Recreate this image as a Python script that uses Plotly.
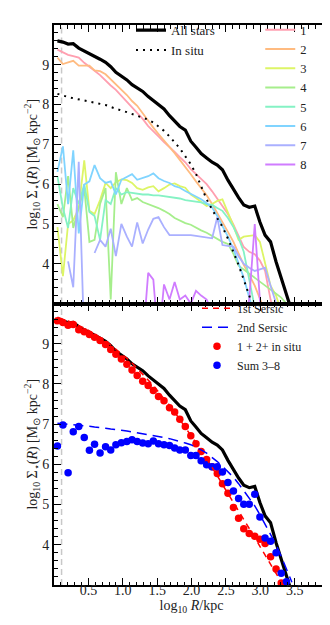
"""Surface density profiles: components (top) and Sersic decomposition (bottom)."""

import plotly.graph_objects as go

# log10 R grid (kpc)
log_r = [0.05, 0.13, 0.205, 0.28, 0.36, 0.44, 0.515, 0.59, 0.67, 0.75,
         0.825, 0.90, 0.98, 1.06, 1.135, 1.21, 1.29, 1.37, 1.445, 1.52,
         1.60, 1.68, 1.755, 1.83, 1.91, 1.99, 2.065, 2.14, 2.22, 2.30,
         2.375, 2.45, 2.53, 2.61, 2.685, 2.76, 2.84, 2.92, 2.995, 3.07,
         3.15, 3.23, 3.305, 3.38, 3.46]

all_stars = [9.60, 9.57, 9.52, 9.53, 9.42, 9.35, 9.29, 9.22, 9.14, 9.06,
             8.95, 8.81, 8.71, 8.62, 8.50, 8.41, 8.33, 8.20, 8.10, 7.99,
             7.89, 7.72, 7.58, 7.45, 7.36, 7.08, 6.93, 6.77, 6.66, 6.55,
             6.48, 6.36, 6.10, 5.86, 5.66, 5.48, 5.42, 5.45, 5.05, 4.72,
             4.55, 4.05, 3.65, 3.25, 2.80]

in_situ = [8.27, 8.22, 8.19, 8.16, 8.13, 8.10, 8.08, 8.06, 8.03, 7.99,
           7.94, 7.89, 7.85, 7.81, 7.77, 7.73, 7.67, 7.62, 7.55, 7.45,
           7.34, 7.20, 7.05, 6.90, 6.70, 6.50, 6.26, 5.95, 5.62, 5.36,
           5.14, 4.93, 4.63, 4.30, 3.97, 3.60, 3.22, 2.80]

comp_1 = [9.38, 9.32, 9.25, 9.22, 9.18, 9.05, 8.96, 8.85, 8.74, 8.60,
          8.48, 8.37, 8.22, 8.07, 7.93, 7.80, 7.64, 7.46, 7.34, 7.20,
          7.06, 6.94, 6.81, 6.68, 6.55, 6.38, 6.25, 6.13, 6.00, 5.82,
          5.64, 5.46, 5.25, 4.98, 4.68, 4.42, 4.30, 4.24, 4.08, 3.82,
          3.10, 2.60]
comp_2 = [9.18, 9.02, 9.06, 9.10, 8.98, 8.98, 8.98, 8.86, 8.84, 8.76,
          8.64, 8.52, 8.38, 8.24, 8.09, 7.97, 7.78, 7.58, 7.42, 7.26,
          7.10, 6.94, 6.78, 6.61, 6.44, 6.25, 6.07, 5.90, 5.72, 5.50,
          5.26, 5.04, 4.80, 4.55, 4.26, 3.97, 3.72, 3.45, 3.12, 2.80]
comp_3 = [4.92, 3.69, 5.00, 5.09, 5.40, 6.60, 5.33, 5.25, 5.60, 6.03,
          5.90, 6.05, 6.12, 6.10, 6.03, 5.90, 5.86, 5.92, 5.95, 5.82,
          5.90, 5.99, 6.02, 5.95, 5.91, 5.74, 5.65, 5.55, 5.45, 5.50,
          5.58, 5.62, 5.30, 4.95, 4.60, 4.68, 4.70, 4.72, 4.55, 4.00,
          3.45, 3.20, 2.80]
comp_4 = [5.50, 5.17, 6.20, 4.90, 5.40, 5.90, 4.55, 4.60, 5.50, 5.90,
          3.10, 6.30, 5.50, 5.90, 5.60, 5.65, 5.55, 5.50, 5.45, 5.40,
          5.33, 5.25, 5.15, 5.08, 5.02, 4.98, 4.90, 4.84, 4.78, 4.70,
          4.62, 4.55, 4.50, 4.25, 3.95, 3.85, 3.75, 3.65, 3.55, 3.45,
          3.35, 3.25, 3.15, 3.00, 2.80]
comp_5 = [6.20, 5.40, 4.90, 5.90, 5.50, 6.00, 5.30, 5.20, 4.60, 5.60,
          5.50, 5.90, 5.74, 5.80, 5.78, 5.76, 5.74, 5.74, 5.72, 5.72,
          5.70, 5.68, 5.66, 5.64, 5.60, 5.58, 5.56, 5.54, 5.50, 5.48,
          5.40, 5.33, 5.15, 4.92, 4.65, 4.30, 3.60, 2.90]
comp_6 = [6.31, 6.95, 5.50, 6.85, 4.76, 5.99, 6.07, 6.48, 6.15, 6.03,
          6.07, 5.74, 6.11, 6.18, 6.25, 6.11, 6.15, 6.20, 6.27, 6.15,
          6.08, 6.03, 5.95, 5.91, 5.83, 5.76, 5.68, 5.62, 5.52, 5.41,
          5.20, 4.95, 4.68, 4.37, 4.00, 3.65, 3.15, 2.70]
comp_7 = [None, None, 4.06, 3.41, 6.56, 2.00, None, 4.27, 4.60, 4.43,
          4.88, 4.19, 5.00, 4.68, 4.43, 5.04, 4.51, 4.86, 5.13, 5.17,
          4.92, 4.72, 4.72, 4.72, 4.72, 4.72, 4.70, 4.68, 4.66, 4.64,
          5.17, 4.47, 4.45, 4.43, 4.19, 4.00, 3.90, 3.82, 3.86, 3.90,
          3.45, 3.04, 2.60]
comp_8 = [None, None, None, None, None, None, None, None, None, None,
          None, None, None, None, None, None, 2.00, 3.77, 3.60, 2.00,
          3.48, 3.10, 3.54, 3.10, 3.20, 3.00, 3.32, 3.20, 3.10, 2.80,
          2.60, 2.50, 2.50, 2.50, 2.50, 2.60, 3.10, 5.00, 3.08, 2.50]

sersic_1 = [9.66, 9.62, 9.57, 9.52, 9.46, 9.39, 9.32, 9.24, 9.16, 9.07,
            8.97, 8.87, 8.76, 8.64, 8.52, 8.39, 8.25, 8.11, 7.96, 7.80,
            7.64, 7.47, 7.30, 7.12, 6.93, 6.74, 6.55, 6.35, 6.14, 5.93,
            5.72, 5.50, 5.28, 5.06, 4.84, 4.62, 4.40, 4.18, 3.96, 3.74,
            3.52, 3.30, 3.08, 2.86]
sersic_2 = [7.02, 7.01, 7.00, 6.99, 6.98, 6.96, 6.95, 6.93, 6.92, 6.90,
            6.88, 6.87, 6.85, 6.83, 6.81, 6.79, 6.77, 6.75, 6.72, 6.70,
            6.67, 6.64, 6.61, 6.57, 6.53, 6.49, 6.43, 6.36, 6.28, 6.18,
            6.07, 5.95, 5.82, 5.68, 5.52, 5.35, 5.17, 4.97, 4.75, 4.52,
            4.27, 4.00, 3.71, 3.40, 3.07]
sum_12_insitu = [9.57, 9.53, 9.46, 9.48, 9.35, 9.30, 9.23, 9.16, 9.08, 8.98,
                 8.86, 8.74, 8.62, 8.49, 8.35, 8.21, 8.07, 7.96, 7.84, 7.69,
                 7.58, 7.41, 7.30, 7.12, 6.94, 6.71, 6.51, 6.32, 6.12, 5.94,
                 5.77, 5.52, 5.28, 4.93, 4.66, 4.40, 4.28, 4.21, 4.14, 4.03,
                 3.70, 3.40, 3.05]
sum_3_8 = [6.46, 6.98, 5.79, 6.81, 6.94, 6.67, 6.35, 6.50, 6.28, 6.44,
           6.36, 6.49, 6.54, 6.57, 6.61, 6.57, 6.53, 6.51, 6.58, 6.51,
           6.49, 6.47, 6.41, 6.36, 6.36, 6.22, 6.22, 6.09, 5.99, 5.94,
           5.94, 5.81, 5.55, 5.34, 5.15, 5.01, 5.01, 5.26, 4.69, 4.17,
           4.09, 3.80, 3.29, 3.08]

comp_colors = ["#ff9fb0", "#ffbb80", "#ddf566", "#a6ee8c",
               "#85f2c4", "#80d4ff", "#aab0ff", "#d07cff"]
comps = [comp_1, comp_2, comp_3, comp_4, comp_5, comp_6, comp_7, comp_8]

FONT = "Liberation Serif"
SPLIT = 0.5026

fig = go.Figure()

for i, (vals, col) in enumerate(zip(comps, comp_colors)):
    fig.add_trace(go.Scatter(
        x=log_r[:len(vals)], y=vals, mode="lines", name=str(i + 1),
        line=dict(color=col, width=1.8), connectgaps=False,
        xaxis="x", yaxis="y", legend="legend2",
    ))

fig.add_trace(go.Scatter(
    x=log_r[:len(all_stars)], y=all_stars, mode="lines", name="All stars",
    line=dict(color="black", width=3.2), xaxis="x", yaxis="y", legend="legend",
))
fig.add_trace(go.Scatter(
    x=log_r[:len(in_situ)], y=in_situ, mode="lines", name="In situ",
    line=dict(color="black", width=2, dash="2px,5px"), xaxis="x", yaxis="y",
    legend="legend",
))

# bottom panel
fig.add_trace(go.Scatter(
    x=log_r[:len(all_stars)], y=all_stars, mode="lines", showlegend=False,
    line=dict(color="black", width=3.2), xaxis="x2", yaxis="y2",
))
fig.add_trace(go.Scatter(
    x=log_r[:len(sum_12_insitu)], y=sum_12_insitu, mode="markers",
    name="1 + 2+ in situ", marker=dict(color="#ff0000", size=7.5),
    xaxis="x2", yaxis="y2", legend="legend3", legendrank=3,
))
fig.add_trace(go.Scatter(
    x=log_r[:len(sum_3_8)], y=sum_3_8, mode="markers", name="Sum 3–8",
    marker=dict(color="#0000ff", size=7.5), xaxis="x2", yaxis="y2",
    legend="legend3", legendrank=4,
))
fig.add_trace(go.Scatter(
    x=log_r[:len(sersic_1)], y=sersic_1, mode="lines", name="1st Sersic",
    line=dict(color="#ff0000", width=1.5, dash="6px,5px"), xaxis="x2",
    yaxis="y2", legend="legend3", legendrank=1,
))
fig.add_trace(go.Scatter(
    x=log_r[:len(sersic_2)], y=sersic_2, mode="lines", name="2nd Sersic",
    line=dict(color="#0000ff", width=1.5, dash="10px,6px"), xaxis="x2",
    yaxis="y2", legend="legend3", legendrank=2,
))

for xref, yref in (("x", "y"), ("x2", "y2")):
    fig.add_shape(type="line", x0=0.11, x1=0.11, y0=0, y1=1,
                  xref=xref, yref=f"{yref} domain",
                  line=dict(color="#c8c8c8", width=1.5, dash="6px,4px"), layer="below")

axis_common = dict(
    showline=True, linewidth=2, linecolor="black", mirror="allticks",
    ticks="inside", ticklen=7, tickwidth=1, tickcolor="black",
    showgrid=False, zeroline=False,
    tickfont=dict(family=FONT, size=14, color="#222"),
)
minor_x = dict(ticks="inside", ticklen=3.5, dtick=0.1, tickcolor="black")
minor_y = dict(ticks="inside", ticklen=3.5, dtick=0.2, tickcolor="black")
x_ticks = [0.5, 1.0, 1.5, 2.0, 2.5, 3.0, 3.5]
x_text = ["0.5", "1.0", "1.5", "2.0", "2.5", "3.0", "3.5"]
y_ticks = [4, 5, 6, 7, 8, 9]
ytitle = "log<sub>10</sub> Σ<sub>⋆</sub>(<i>R</i>) [M<sub>⊙</sub> kpc<sup>−2</sup>]"
legend_common = dict(xanchor="left", yanchor="top", bgcolor="rgba(0,0,0,0)",
                     font=dict(family=FONT, size=13, color="#222"),
                     itemwidth=30, tracegroupgap=0)

fig.update_layout(
    width=330, height=625,
    margin=dict(l=46, r=7, t=10, b=48),
    plot_bgcolor="white", paper_bgcolor="white",
    font=dict(family=FONT, size=13, color="#222"),
    xaxis=dict(axis_common, range=[0, 4], anchor="y", showticklabels=False,
               tickvals=x_ticks, minor=minor_x),
    xaxis2=dict(axis_common, range=[0, 4], anchor="y2", matches="x",
                tickvals=x_ticks, ticktext=x_text, minor=minor_x,
                ticklabelstandoff=-9,
                title=dict(text="log<sub>10</sub> <i>R</i>/kpc", standoff=0,
                           font=dict(family=FONT, size=14))),
    yaxis=dict(axis_common, range=[3, 10], domain=[SPLIT, 1],
               tickvals=y_ticks, minor=minor_y,
               title=dict(text=ytitle, standoff=0, font=dict(family=FONT, size=14))),
    yaxis2=dict(axis_common, range=[3, 10], domain=[0, SPLIT],
                tickvals=y_ticks, minor=minor_y,
                title=dict(text=ytitle, standoff=0, font=dict(family=FONT, size=14))),
    legend=dict(legend_common, x=0.28, y=1.0176),
    legend2=dict(legend_common, x=0.75, y=1.0176,
                 font=dict(family=FONT, size=12.5, color="#222")),
    legend3=dict(legend_common, x=0.52, y=0.52,
                 font=dict(family=FONT, size=12, color="#222")),
)

fig.write_html("out.html")
